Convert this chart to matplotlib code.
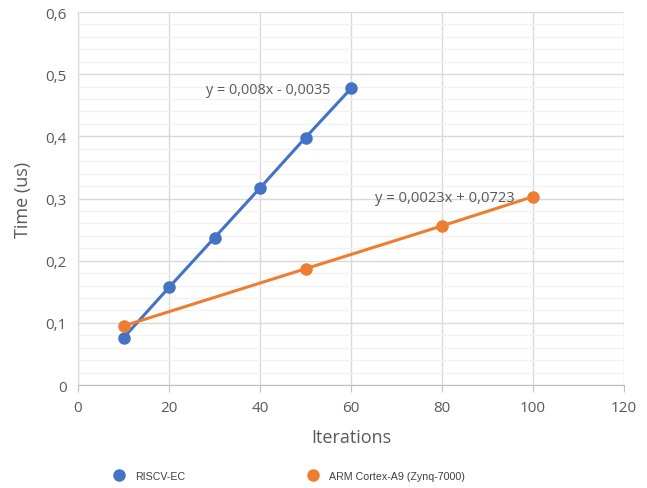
import matplotlib.pyplot as plt
from matplotlib.ticker import MultipleLocator, FuncFormatter

# data
riscv_x = [10, 20, 30, 40, 50, 60]
riscv_y = [0.076, 0.157, 0.237, 0.317, 0.398, 0.477]
arm_x = [10, 50, 80, 100]
arm_y = [0.095, 0.187, 0.256, 0.303]
riscv_label = "RISCV-EC"
arm_label = "ARM Cortex-A9 (Zynq-7000)"
riscv_eq = "y = 0,008x - 0,0035"
arm_eq = "y = 0,0023x + 0,0723"

blue = "#4472C4"
orange = "#ED7D31"
txt = "#595959"

plt.rcParams['font.family'] = ['Open Sans', 'DejaVu Sans']

fig = plt.figure(figsize=(6.47, 4.89), dpi=100)
ax = fig.add_axes([0.1206, 0.2106, 0.8439, 0.7628])

ax.plot(riscv_x, riscv_y, color=blue, lw=2.2, marker='o', ms=8, label=riscv_label, zorder=3)
ax.plot(arm_x, arm_y, color=orange, lw=2.2, marker='o', ms=8, label=arm_label, zorder=3)

ax.set_xlim(0, 120)
ax.set_ylim(0, 0.6)
ax.xaxis.set_major_locator(MultipleLocator(20))
ax.yaxis.set_major_locator(MultipleLocator(0.1))
ax.yaxis.set_minor_locator(MultipleLocator(0.02))
ax.yaxis.set_major_formatter(FuncFormatter(lambda v, p: f"{v:.1f}".replace('.', ',') if v > 0 else "0"))

ax.grid(which='major', color='#D9D9D9', lw=1)
ax.grid(which='minor', axis='y', color='#F2F2F2', lw=1)
ax.set_axisbelow(True)

for s in ['top', 'right']:
    ax.spines[s].set_visible(False)
ax.spines['left'].set_color('#D9D9D9')
ax.spines['bottom'].set_color('#BFBFBF')
ax.tick_params(axis='y', which='both', length=0, labelsize=11, labelcolor=txt, pad=8)
ax.tick_params(axis='x', length=5, color='#BFBFBF', labelsize=11, labelcolor=txt, pad=6)

ax.set_xlabel("Iterations", fontsize=13, color=txt, labelpad=9)
ax.set_ylabel("Time (us)", fontsize=13, color=txt, labelpad=10)

# trendline equations
ax.text(55.4, 0.476, riscv_eq, fontsize=10.4, color=txt, ha='right', va='center')
ax.text(96.0, 0.301, arm_eq, fontsize=10.6, color=txt, ha='right', va='center')

leg = fig.legend(loc='center left', bbox_to_anchor=(114 / 647, 12 / 489), ncol=2, frameon=False,
                 handlelength=1, columnspacing=11.4, handletextpad=1.0,
                 borderpad=0, borderaxespad=0,
                 prop={'family': 'Liberation Sans', 'size': 7.7},
                 labelcolor='#404040')
for h in leg.legend_handles:
    h.set_linestyle('none')

fig.savefig("out.png", dpi=100)
